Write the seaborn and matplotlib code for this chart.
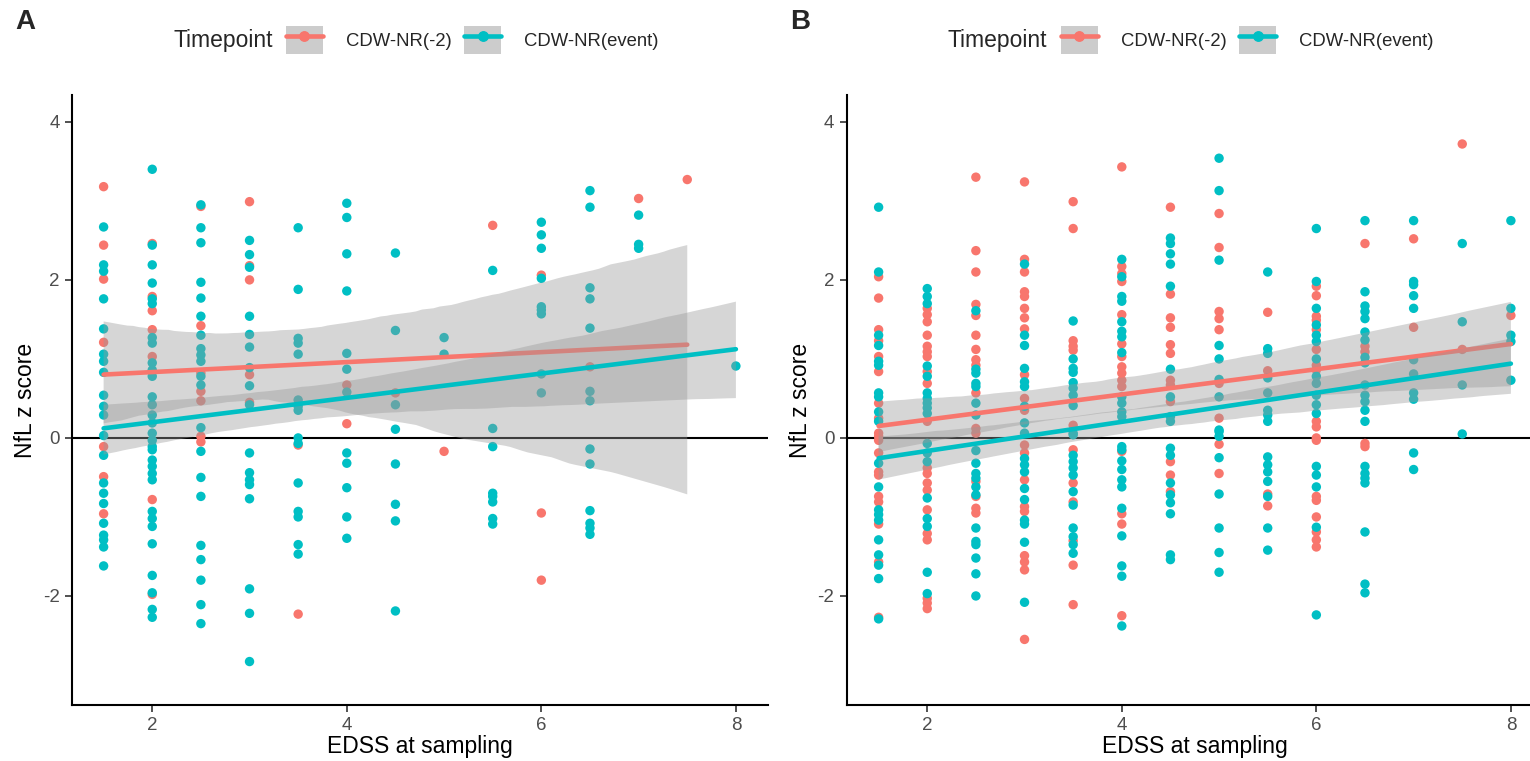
import matplotlib
matplotlib.use("Agg")
import matplotlib.pyplot as plt
import seaborn as sns
import pandas as pd
from matplotlib.lines import Line2D
from matplotlib.patches import Patch
from matplotlib.legend_handler import HandlerTuple

# ---- data: EDSS step -> NfL z scores ----
LEVELS = ["CDW-NR(-2)", "CDW-NR(event)"]
PALETTE = {"CDW-NR(-2)": "#F8766D", "CDW-NR(event)": "#00BFC4"}

a_red = {
    1.5: [3.18, 2.44, 2.01, 1.21, -0.11, -0.49, -0.96],
    2: [2.46, 1.79, 1.61, 1.37, 1.03, -0.78, -1.98],
    2.5: [2.93, 1.42, 0.82, 0.59, 0.47, 0.02, -0.05],
    3: [2.99, 2.18, 2.00, 0.80, 0.45],
    3.5: [-0.09, -2.23],
    4: [0.67, 0.18],
    4.5: [0.57],
    5: [-0.17],
    5.5: [2.69],
    6: [2.06, -0.95, -1.80],
    6.5: [0.90],
    7: [3.03],
    7.5: [3.27],
}
a_cyan = {
    1.5: [2.67, 2.19, 2.11, 1.76, 1.38, 1.06, 0.97, 0.83, 0.54, 0.40, 0.29, 0.03,
          -0.22, -0.57, -0.70, -0.83, -1.08, -1.23, -1.29, -1.38, -1.62],
    2: [3.40, 2.44, 2.19, 1.96, 1.76, 1.70, 1.27, 1.20, 0.95, 0.86, 0.78, 0.52, 0.42,
        0.29, 0.19, 0.06, -0.03, -0.11, -0.15, -0.28, -0.36, -0.45, -0.53, -0.93,
        -1.02, -1.12, -1.34, -1.74, -1.96, -2.17, -2.27],
    2.5: [2.95, 2.66, 2.47, 1.97, 1.77, 1.54, 1.30, 1.13, 1.05, 0.97, 0.78, 0.67, 0.13,
          -0.17, -0.50, -0.74, -1.36, -1.54, -1.80, -2.11, -2.35],
    3: [2.50, 2.32, 2.16, 1.54, 1.31, 1.15, 0.89, 0.66, 0.42, -0.19, -0.44, -0.53,
        -0.59, -0.77, -1.91, -2.22, -2.83],
    3.5: [2.66, 1.88, 1.26, 1.20, 1.06, 0.48, 0.40, 0.35, 0.00, -0.07, -0.57, -0.93,
          -1.00, -1.35, -1.47],
    4: [2.97, 2.79, 2.33, 1.86, 1.07, 0.87, 0.58, -0.19, -0.32, -0.63, -1.00, -1.27],
    4.5: [2.34, 1.36, 0.42, 0.11, -0.33, -0.84, -1.05, -2.19],
    5: [1.27, 1.06],
    5.5: [2.12, 0.12, -0.11, -0.70, -0.74, -0.81, -1.02, -1.09],
    6: [2.73, 2.57, 2.40, 2.02, 1.66, 1.62, 1.57, 0.81, 0.57],
    6.5: [3.13, 2.92, 1.90, 1.76, 1.39, 0.59, 0.47, -0.14, -0.33, -0.92, -1.08,
          -1.14, -1.22],
    7: [2.82, 2.45, 2.40],
    8: [0.91],
}

b_red = {
    1.5: [2.04, 1.77, 1.37, 1.23, 1.03, 0.84, 0.44, 0.25, 0.06, 0.02, -0.03, -0.19,
          -0.43, -0.47, -0.74, -0.81, -1.09, -1.57, -2.27],
    2: [1.64, 1.56, 1.47, 1.30, 1.16, 1.09, 1.03, 0.84, 0.69, 0.21, -0.38, -0.45,
        -0.57, -0.66, -0.91, -1.21, -1.29, -2.03, -2.09, -2.16],
    2.5: [3.30, 2.37, 2.10, 1.69, 1.55, 1.30, 1.12, 0.99, 0.92, 0.57, 0.12, 0.06,
          -0.55, -0.74, -0.89, -0.95],
    3: [3.24, 2.26, 2.10, 1.85, 1.79, 1.64, 1.52, 1.38, 0.80, 0.50, 0.35, -0.09,
        -0.19, -0.53, -0.87, -0.93, -1.49, -1.57, -1.67, -2.55],
    3.5: [2.99, 2.65, 1.23, 1.16, 1.11, 0.16, -0.15, -0.57, -0.81, -1.30, -1.61, -2.11],
    4: [3.43, 2.17, 2.08, 1.98, 1.56, 1.19, 1.03, 0.90, 0.82, 0.73, 0.65, -0.17,
        -0.96, -1.09, -2.25],
    4.5: [2.92, 1.82, 1.52, 1.40, 1.18, 1.07, 0.73, 0.67, 0.46, -0.30, -0.47, -0.68],
    5: [2.84, 2.41, 1.60, 1.51, 1.37, 0.69, 0.25, -0.08, -0.45],
    5.5: [1.59, 0.85, -0.71, -0.86],
    6: [1.92, 1.80, 1.54, 1.49, 1.37, 1.12, 0.92, 0.86, 0.21, 0.14, 0.00, -0.03,
        -0.74, -0.79, -1.00, -1.19, -1.29, -1.38],
    6.5: [2.46, 1.16, 1.09, -0.07, -0.11],
    7: [2.52, 1.40],
    7.5: [3.72, 1.12],
    8: [1.55],
}
b_cyan = {
    1.5: [2.92, 2.10, 1.30, 1.17, 0.97, 0.92, 0.57, 0.52, 0.33, 0.21, -0.32, -0.62,
          -0.91, -0.97, -1.04, -1.29, -1.48, -1.61, -1.78, -2.29],
    2: [1.89, 1.79, 1.70, 0.91, 0.78, 0.57, 0.50, 0.44, 0.38, 0.31, -0.07, -0.19,
        -0.30, -0.76, -1.02, -1.12, -1.70, -1.97],
    2.5: [1.61, 0.87, 0.82, 0.69, 0.65, 0.44, 0.29, -0.16, -0.32, -0.45, -0.51,
          -0.62, -0.72, -1.14, -1.31, -1.35, -1.52, -1.72, -2.00],
    3: [2.20, 1.30, 1.17, 0.88, 0.71, 0.65, 0.40, 0.19, 0.06, -0.26, -0.34, -0.43,
        -0.64, -0.78, -1.04, -1.09, -1.32, -2.08],
    3.5: [1.48, 1.00, 0.88, 0.83, 0.70, 0.63, 0.54, 0.41, 0.06, 0.04, -0.22, -0.30,
          -0.38, -0.47, -0.68, -0.85, -1.14, -1.25, -1.35, -1.46],
    4: [2.26, 2.04, 1.79, 1.73, 1.47, 1.35, 1.28, 1.08, 0.52, 0.44, 0.33, 0.27,
        -0.11, -0.15, -0.29, -0.40, -0.53, -0.62, -0.89, -1.24, -1.62, -1.75, -2.38],
    4.5: [2.53, 2.46, 2.33, 2.20, 1.92, 0.87, 0.52, 0.27, 0.21, -0.13, -0.22, -0.57,
          -0.72, -0.82, -0.96, -1.48, -1.54],
    5: [3.54, 3.13, 2.25, 1.17, 1.00, 0.74, 0.52, 0.10, 0.08, 0.02, -0.25, -0.71,
        -1.14, -1.45, -1.70],
    5.5: [2.10, 1.13, 1.07, 0.76, 0.57, 0.35, 0.29, 0.21, -0.24, -0.34, -0.43,
          -0.55, -0.74, -1.14, -1.42],
    6: [2.65, 1.98, 1.64, 1.43, 1.30, 1.22, 1.00, 0.78, 0.69, 0.54, 0.42, 0.31,
        -0.36, -0.47, -0.62, -1.13, -2.24],
    6.5: [2.75, 1.85, 1.67, 1.60, 1.51, 1.34, 1.24, 1.02, 0.95, 0.67, 0.54, 0.46,
          0.35, 0.21, -0.36, -0.45, -0.51, -0.57, -1.19, -1.85, -1.96],
    7: [2.75, 1.98, 1.94, 1.80, 1.64, 0.99, 0.81, 0.57, 0.49, -0.19, -0.40],
    7.5: [2.46, 1.47, 0.67, 0.05],
    8: [2.75, 1.64, 1.30, 1.22, 0.73],
}

x_ticks = [2, 4, 6, 8]
y_ticks = [-2, 0, 2, 4]


def to_frame(red, cyan):
    rows = []
    for tp, groups in zip(LEVELS, (red, cyan)):
        for edss, vals in groups.items():
            for v in vals:
                rows.append((edss, v, tp))
    return pd.DataFrame(rows, columns=["edss", "nfl_z", "timepoint"])


sns.set_theme(style="ticks")
plt.rcParams["font.family"] = ["Liberation Sans", "DejaVu Sans"]
plt.rcParams["axes.unicode_minus"] = False

W, H = 1530, 761
fig = plt.figure(figsize=(W / 100, H / 100), dpi=100)
ax_a = fig.add_axes([72 / W, 1 - 705 / H, 695.5 / W, 610 / H])
ax_b = fig.add_axes([847 / W, 1 - 705 / H, 695.5 / W, 610 / H])


def draw_panel(ax, df, tag):
    ax.axhline(0, color="black", lw=1.5, zorder=1.5)
    sns.scatterplot(data=df, x="edss", y="nfl_z", hue="timepoint",
                    hue_order=LEVELS, palette=PALETTE, s=46, linewidth=0,
                    legend=False, ax=ax, zorder=2)
    z = 3
    for tp in LEVELS:
        sub = df[df["timepoint"] == tp]
        sns.regplot(data=sub, x="edss", y="nfl_z", scatter=False, ci=95, seed=1,
                    color=PALETTE[tp], line_kws=dict(lw=3.3, zorder=z + 1), ax=ax)
        band = ax.collections[-1]
        band.set_facecolor("#999999")
        band.set_alpha(0.4)
        band.set_edgecolor("none")
        band.set_zorder(z)
        z += 2

    ax.set_xlim(1.175, 8.325)
    ax.set_ylim(-3.38, 4.34)
    ax.set_xticks(x_ticks)
    ax.set_yticks(y_ticks)
    ax.set_xlabel("EDSS at sampling", fontsize=16.5, color="black", labelpad=0)
    ax.set_ylabel("NfL z score", fontsize=16.5, color="black", labelpad=4)
    ax.tick_params(labelsize=13.5, labelcolor="#4D4D4D", length=5, width=1.2,
                   color="#333333", pad=4)
    sns.despine(ax=ax)
    for side in ("left", "bottom"):
        ax.spines[side].set_linewidth(1.5)
        ax.spines[side].set_color("black")

    # panel tag and top legend, placed relative to the panel
    x0 = ax.get_position().x0
    fig.text(x0 - 57 / W, 1 - 22 / H, tag, fontsize=20, fontweight="bold", va="center")
    fig.text(x0 + 101 / W, 1 - 41 / H, "Timepoint", fontsize=16.5, va="center")
    handles = [(Patch(facecolor="#CCCCCC", edgecolor="none"),
                Line2D([], [], color=PALETTE[tp], lw=3.3, marker="o", ms=6.8))
               for tp in LEVELS]
    fig.legend(handles, LEVELS, handler_map={tuple: HandlerTuple(ndivide=1)},
               loc="center left", bbox_to_anchor=(x0 + 214 / W, 1 - 40 / H),
               ncol=2, frameon=False, fontsize=13.3, handlelength=2.0,
               handleheight=1.95, handletextpad=1.24, columnspacing=0.68,
               borderpad=0, borderaxespad=0)


draw_panel(ax_a, to_frame(a_red, a_cyan), "A")
draw_panel(ax_b, to_frame(b_red, b_cyan), "B")

fig.savefig("out.png", dpi=100)
